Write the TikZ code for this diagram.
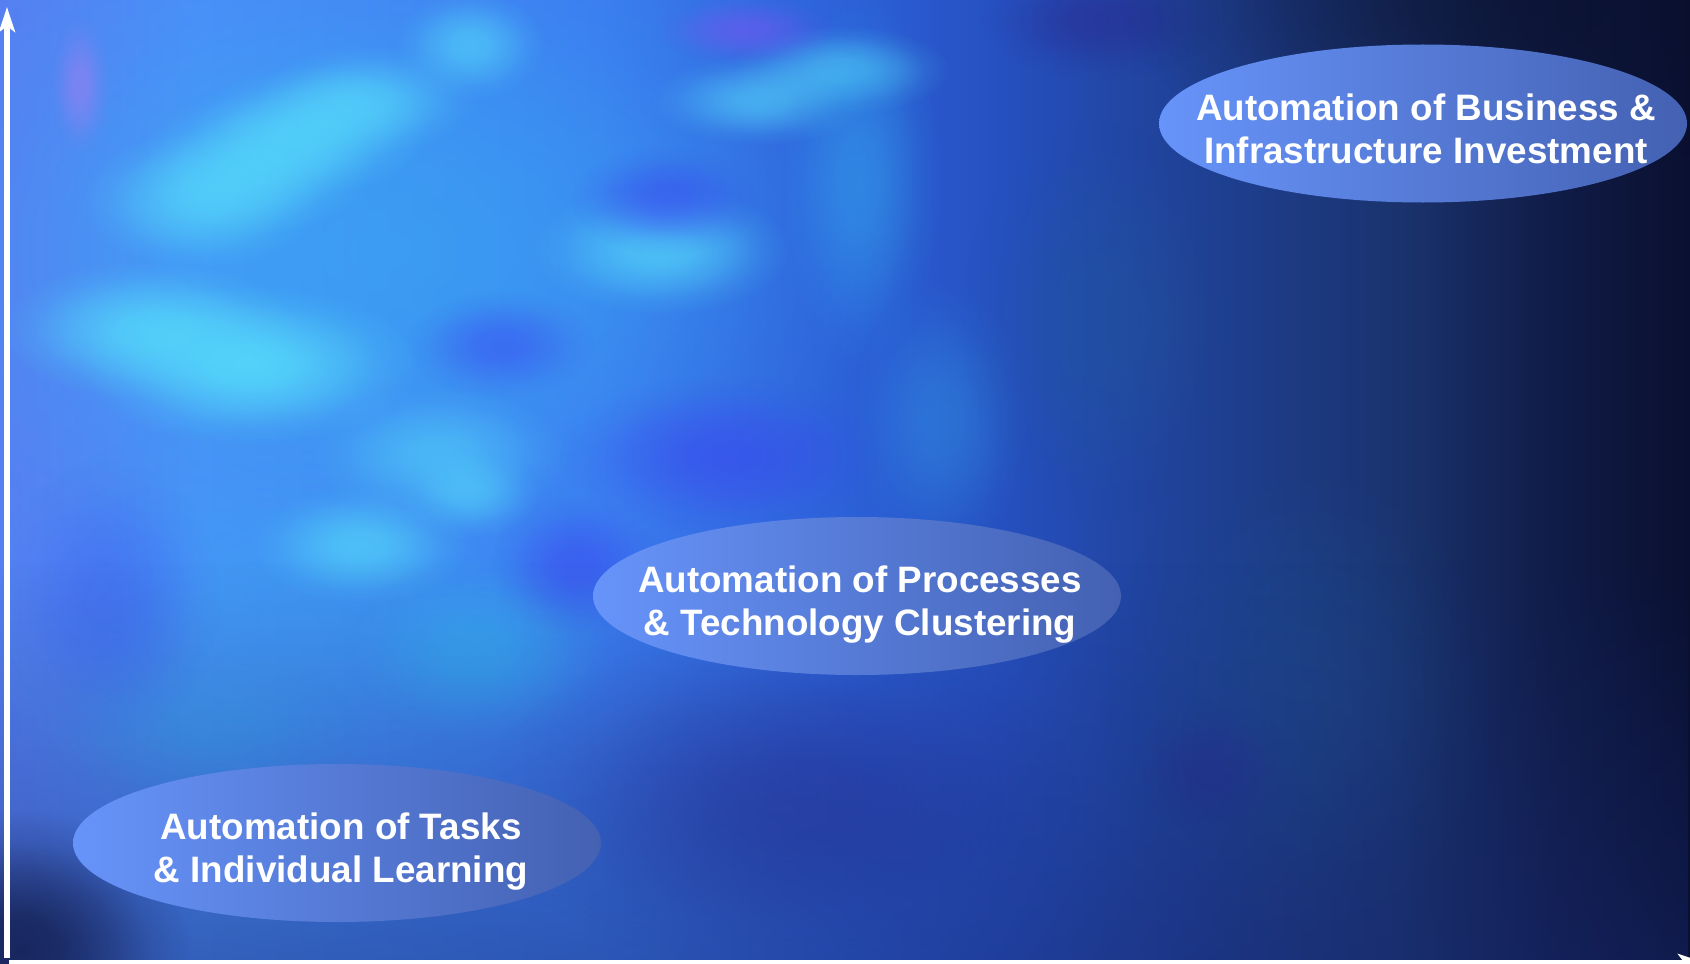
\documentclass[tikz,border=0pt]{standalone}
\usepackage{fontspec}
\setmainfont{Liberation Sans}
\usetikzlibrary{shapes.geometric,arrows.meta,fadings}
\definecolor{bg0}{HTML}{5680F2}
\definecolor{bg1}{HTML}{4A8EF8}
\definecolor{bg2}{HTML}{3C7CF0}
\definecolor{bg3}{HTML}{2C60D8}
\definecolor{bg4}{HTML}{2650C0}
\definecolor{bg5}{HTML}{1F4094}
\definecolor{bg6}{HTML}{1A336E}
\definecolor{bg7}{HTML}{101C48}
\definecolor{bg8}{HTML}{0A1030}
\definecolor{cyanL}{HTML}{55D8FA}
\definecolor{cyanM}{HTML}{35B2F2}
\definecolor{violetB}{HTML}{3A48F0}
\definecolor{purpleT}{HTML}{7058F0}
\definecolor{pinkS}{HTML}{A080F0}
\definecolor{purpleD}{HTML}{2A2890}
\definecolor{navyD}{HTML}{0A0F2A}
\definecolor{navyB}{HTML}{182870}
\definecolor{tealD}{HTML}{205898}
\definecolor{bubL}{HTML}{6794FA}
\definecolor{bubR}{HTML}{4461B2}
\pgfdeclarehorizontalshading{bgshade}{100bp}{color(0bp)=(bg0); color(25bp)=(bg0); color(30.9bp)=(bg1); color(42.75bp)=(bg2); color(50.15bp)=(bg3); color(54.6bp)=(bg4); color(60.5bp)=(bg5); color(66.4bp)=(bg6); color(70.9bp)=(bg7); color(75bp)=(bg8); color(100bp)=(bg8)}
\pgfdeclareradialshading{blobshade}{\pgfpoint{0bp}{0bp}}{color(0bp)=(white); color(6bp)=(white!90!black); color(13bp)=(white!55!black); color(19bp)=(white!20!black); color(25bp)=(black); color(50bp)=(black)}
\pgfdeclarefading{softblob}{\pgfuseshading{blobshade}}
\tikzfading[name=fadeup, top color=transparent!100, bottom color=transparent!0]
\newcommand\bgblob[6]{\fill[#1, fill opacity=#2, path fading=softblob] (#3,#4) ellipse ({#5*0.5pt} and {#6*0.5pt});}
\begin{document}
\begin{tikzpicture}[x=0.5pt,y=-0.5pt,
  bubble/.style={ellipse, inner sep=0pt, outer sep=0pt, draw=none, left color=bubL, right color=bubR, minimum width=264pt, minimum height=79pt},
  caption/.style={text=white, font=\bfseries\fontsize{18.4}{21.5}\selectfont, align=center, inner sep=0pt},
  axisline/.style={white, line width=3pt, -{Stealth[length=12.5pt,width=8pt,inset=3pt]}}]
\useasboundingbox (0,0) rectangle (1690,963);
\begin{scope}
\clip (0,0) rectangle (1690,963);
\shade[shading=bgshade] (0,0) rectangle (1690,963);
% broad light wash
\bgblob{cyanM}{0.5}{380}{250}{520}{340}
\bgblob{cyanM}{0.35}{300}{620}{340}{210}
% cyan highlights: diagonal streak upper left
\bgblob{cyanL}{0.7}{200}{200}{120}{70}
\bgblob{cyanL}{0.75}{255}{165}{120}{70}
\bgblob{cyanL}{0.75}{310}{130}{120}{65}
\bgblob{cyanL}{0.65}{365}{100}{110}{55}
\bgblob{cyanL}{0.6}{470}{45}{75}{55}
% top centre streak
\bgblob{cyanL}{0.6}{760}{100}{110}{45}
\bgblob{cyanL}{0.6}{840}{70}{110}{45}
\bgblob{cyanL}{0.7}{660}{250}{130}{65}
% big cyan middle-left
\bgblob{cyanL}{0.8}{150}{330}{150}{70}
\bgblob{cyanL}{0.9}{250}{365}{170}{80}
\bgblob{cyanL}{0.55}{440}{455}{130}{70}
\bgblob{cyanL}{0.65}{360}{545}{110}{60}
\bgblob{cyanL}{0.5}{470}{495}{70}{45}
\bgblob{cyanM}{0.65}{480}{650}{130}{95}
\bgblob{cyanM}{0.45}{860}{180}{80}{190}
\bgblob{cyanM}{0.3}{940}{420}{90}{140}
\bgblob{cyanM}{0.3}{200}{730}{160}{80}
% violet / darker patches
\bgblob{violetB}{0.55}{665}{200}{95}{55}
\bgblob{violetB}{0.5}{500}{345}{95}{55}
\bgblob{violetB}{0.6}{720}{455}{160}{80}
\bgblob{violetB}{0.55}{575}{565}{85}{70}
\bgblob{violetB}{0.35}{110}{600}{110}{140}
\bgblob{purpleT}{0.6}{745}{30}{90}{35}
\bgblob{pinkS}{0.55}{80}{85}{30}{70}
\bgblob{purpleD}{0.5}{1100}{20}{120}{60}
\bgblob{purpleD}{0.5}{1215}{770}{80}{70}
\bgblob{purpleD}{0.45}{780}{800}{300}{170}
% dark and teal regions
\bgblob{navyD}{0.6}{1500}{0}{380}{180}
\bgblob{navyD}{0.8}{20}{950}{170}{140}
\bgblob{tealD}{0.4}{1100}{320}{140}{200}
\bgblob{tealD}{0.3}{1300}{700}{200}{250}
\fill[navyB, fill opacity=0.45, path fading=fadeup] (0,560) rectangle (1690,963);
\end{scope}
% axes
\coordinate (origin) at (7,958);
\coordinate (ytop) at (7,7);
\coordinate (xorig) at (9,962);
\coordinate (xend) at (1703,962);
\draw[axisline] (origin) -- (ytop);
\draw[axisline, line width=2.5pt] (xorig) -- (xend);
% ellipses
\node[bubble] (biz) at (1423,123.5) {};
\node[caption] (biztext) at (1426,129) {Automation of Business \&\\Infrastructure Investment};
\node[bubble] (proc) at (857,596) {};
\node[caption] (proctext) at (860,605) {Automation of Processes\\\& Technology Clustering};
\node[bubble] (task) at (337,843) {};
\node[caption] (tasktext) at (341,852) {Automation of Tasks\\\& Individual Learning};
\end{tikzpicture}
\end{document}
